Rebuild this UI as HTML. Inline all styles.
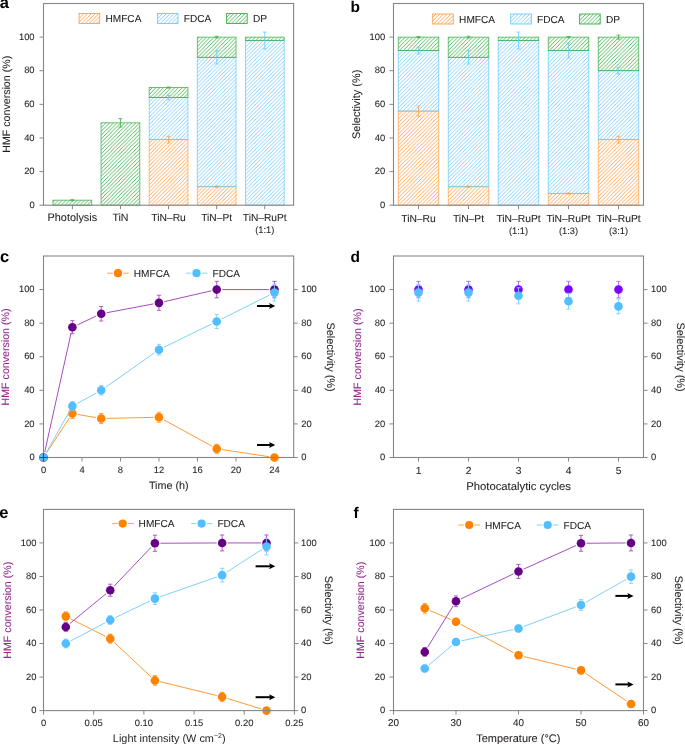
<!DOCTYPE html>
<html><head><meta charset="utf-8"><style>
html,body{margin:0;padding:0;background:#fff;width:685px;height:744px;overflow:hidden}
svg{display:block;will-change:transform}
text{font-family:"Liberation Sans", sans-serif;text-rendering:geometricPrecision}
</style></head><body>
<svg width="685" height="744" viewBox="0 0 685 744">
<defs>
<pattern id="hor" patternUnits="userSpaceOnUse" width="3.75" height="3.75"><path d="M-1,1 L1,-1 M0,3.75 L3.75,0 M2.75,4.75 L4.75,2.75" stroke="#ff9f48" stroke-width="0.9"/></pattern>
<pattern id="hbl" patternUnits="userSpaceOnUse" width="3.75" height="3.75"><path d="M-1,1 L1,-1 M0,3.75 L3.75,0 M2.75,4.75 L4.75,2.75" stroke="#78cbfa" stroke-width="0.9"/></pattern>
<pattern id="hgr" patternUnits="userSpaceOnUse" width="3.75" height="3.75"><path d="M-1,1 L1,-1 M0,3.75 L3.75,0 M2.75,4.75 L4.75,2.75" stroke="#42b24f" stroke-width="0.9"/></pattern>
</defs>
<rect x="52.96" y="200.16" width="38.80" height="5.04" fill="url(#hgr)" stroke="#3cb04a" stroke-width="0.75"/>
<rect x="101.05" y="122.84" width="38.80" height="82.36" fill="url(#hgr)" stroke="#3cb04a" stroke-width="0.75"/>
<rect x="149.15" y="139.65" width="38.80" height="65.55" fill="url(#hor)" stroke="#ffa34d" stroke-width="0.75"/>
<rect x="149.15" y="97.63" width="38.80" height="42.02" fill="url(#hbl)" stroke="#6fcaf7" stroke-width="0.75"/>
<rect x="149.15" y="87.54" width="38.80" height="10.09" fill="url(#hgr)" stroke="#3cb04a" stroke-width="0.75"/>
<rect x="197.25" y="186.71" width="38.80" height="18.49" fill="url(#hor)" stroke="#ffa34d" stroke-width="0.75"/>
<rect x="197.25" y="57.29" width="38.80" height="129.42" fill="url(#hbl)" stroke="#6fcaf7" stroke-width="0.75"/>
<rect x="197.25" y="37.12" width="38.80" height="20.17" fill="url(#hgr)" stroke="#3cb04a" stroke-width="0.75"/>
<rect x="245.34" y="40.48" width="38.80" height="164.72" fill="url(#hbl)" stroke="#6fcaf7" stroke-width="0.75"/>
<rect x="245.34" y="37.12" width="38.80" height="3.36" fill="url(#hgr)" stroke="#3cb04a" stroke-width="0.75"/>
<line x1="72.36" y1="199.65" x2="72.36" y2="200.66" stroke="#3cb04a" stroke-width="0.8"/>
<line x1="70.36" y1="199.65" x2="74.36" y2="199.65" stroke="#3cb04a" stroke-width="0.8"/>
<line x1="70.36" y1="200.66" x2="74.36" y2="200.66" stroke="#3cb04a" stroke-width="0.8"/>
<line x1="120.45" y1="118.64" x2="120.45" y2="127.04" stroke="#3cb04a" stroke-width="0.8"/>
<line x1="118.45" y1="118.64" x2="122.45" y2="118.64" stroke="#3cb04a" stroke-width="0.8"/>
<line x1="118.45" y1="127.04" x2="122.45" y2="127.04" stroke="#3cb04a" stroke-width="0.8"/>
<line x1="168.55" y1="136.29" x2="168.55" y2="143.01" stroke="#ffa34d" stroke-width="0.8"/>
<line x1="166.55" y1="136.29" x2="170.55" y2="136.29" stroke="#ffa34d" stroke-width="0.8"/>
<line x1="166.55" y1="143.01" x2="170.55" y2="143.01" stroke="#ffa34d" stroke-width="0.8"/>
<line x1="168.55" y1="95.44" x2="168.55" y2="99.81" stroke="#6fcaf7" stroke-width="0.8"/>
<line x1="166.55" y1="95.44" x2="170.55" y2="95.44" stroke="#6fcaf7" stroke-width="0.8"/>
<line x1="166.55" y1="99.81" x2="170.55" y2="99.81" stroke="#6fcaf7" stroke-width="0.8"/>
<line x1="168.55" y1="87.04" x2="168.55" y2="88.05" stroke="#3cb04a" stroke-width="0.8"/>
<line x1="166.55" y1="87.04" x2="170.55" y2="87.04" stroke="#3cb04a" stroke-width="0.8"/>
<line x1="166.55" y1="88.05" x2="170.55" y2="88.05" stroke="#3cb04a" stroke-width="0.8"/>
<line x1="216.65" y1="185.87" x2="216.65" y2="187.55" stroke="#ffa34d" stroke-width="0.8"/>
<line x1="214.65" y1="185.87" x2="218.65" y2="185.87" stroke="#ffa34d" stroke-width="0.8"/>
<line x1="214.65" y1="187.55" x2="218.65" y2="187.55" stroke="#ffa34d" stroke-width="0.8"/>
<line x1="216.65" y1="50.56" x2="216.65" y2="64.01" stroke="#6fcaf7" stroke-width="0.8"/>
<line x1="214.65" y1="50.56" x2="218.65" y2="50.56" stroke="#6fcaf7" stroke-width="0.8"/>
<line x1="214.65" y1="64.01" x2="218.65" y2="64.01" stroke="#6fcaf7" stroke-width="0.8"/>
<line x1="216.65" y1="36.28" x2="216.65" y2="37.96" stroke="#3cb04a" stroke-width="0.8"/>
<line x1="214.65" y1="36.28" x2="218.65" y2="36.28" stroke="#3cb04a" stroke-width="0.8"/>
<line x1="214.65" y1="37.96" x2="218.65" y2="37.96" stroke="#3cb04a" stroke-width="0.8"/>
<line x1="264.74" y1="32.07" x2="264.74" y2="48.88" stroke="#6fcaf7" stroke-width="0.8"/>
<line x1="262.74" y1="32.07" x2="266.74" y2="32.07" stroke="#6fcaf7" stroke-width="0.8"/>
<line x1="262.74" y1="48.88" x2="266.74" y2="48.88" stroke="#6fcaf7" stroke-width="0.8"/>
<line x1="39.50" y1="205.20" x2="43.50" y2="205.20" stroke="#868686" stroke-width="1.0"/>
<text x="34.60" y="207.80" font-size="9.4" text-anchor="end" fill="#231f20" font-weight="normal" stroke="#231f20" stroke-width="0.08">0</text>
<line x1="39.50" y1="171.58" x2="43.50" y2="171.58" stroke="#868686" stroke-width="1.0"/>
<text x="34.60" y="174.18" font-size="9.4" text-anchor="end" fill="#231f20" font-weight="normal" stroke="#231f20" stroke-width="0.08">20</text>
<line x1="39.50" y1="137.97" x2="43.50" y2="137.97" stroke="#868686" stroke-width="1.0"/>
<text x="34.60" y="140.57" font-size="9.4" text-anchor="end" fill="#231f20" font-weight="normal" stroke="#231f20" stroke-width="0.08">40</text>
<line x1="39.50" y1="104.35" x2="43.50" y2="104.35" stroke="#868686" stroke-width="1.0"/>
<text x="34.60" y="106.95" font-size="9.4" text-anchor="end" fill="#231f20" font-weight="normal" stroke="#231f20" stroke-width="0.08">60</text>
<line x1="39.50" y1="70.73" x2="43.50" y2="70.73" stroke="#868686" stroke-width="1.0"/>
<text x="34.60" y="73.33" font-size="9.4" text-anchor="end" fill="#231f20" font-weight="normal" stroke="#231f20" stroke-width="0.08">80</text>
<line x1="39.50" y1="37.12" x2="43.50" y2="37.12" stroke="#868686" stroke-width="1.0"/>
<text x="34.60" y="39.72" font-size="9.4" text-anchor="end" fill="#231f20" font-weight="normal" stroke="#231f20" stroke-width="0.08">100</text>
<line x1="72.36" y1="205.20" x2="72.36" y2="209.20" stroke="#868686" stroke-width="1.0"/>
<line x1="120.45" y1="205.20" x2="120.45" y2="209.20" stroke="#868686" stroke-width="1.0"/>
<line x1="168.55" y1="205.20" x2="168.55" y2="209.20" stroke="#868686" stroke-width="1.0"/>
<line x1="216.65" y1="205.20" x2="216.65" y2="209.20" stroke="#868686" stroke-width="1.0"/>
<line x1="264.74" y1="205.20" x2="264.74" y2="209.20" stroke="#868686" stroke-width="1.0"/>
<text x="72.36" y="220.50" font-size="10.9" text-anchor="middle" fill="#231f20" font-weight="normal" stroke="#231f20" stroke-width="0.08">Photolysis</text>
<text x="120.45" y="220.70" font-size="10.6" text-anchor="middle" fill="#231f20" font-weight="normal" stroke="#231f20" stroke-width="0.08">TiN</text>
<text x="168.55" y="220.90" font-size="10.3" text-anchor="middle" fill="#231f20" font-weight="normal" stroke="#231f20" stroke-width="0.08">TiN–Ru</text>
<text x="216.65" y="220.90" font-size="10.2" text-anchor="middle" fill="#231f20" font-weight="normal" stroke="#231f20" stroke-width="0.08">TiN–Pt</text>
<text x="264.74" y="220.90" font-size="10.2" text-anchor="middle" fill="#231f20" font-weight="normal" stroke="#231f20" stroke-width="0.08">TiN–RuPt</text>
<text x="264.74" y="232.90" font-size="9.3" text-anchor="middle" fill="#231f20" font-weight="normal" stroke="#231f20" stroke-width="0.08">(1:1)</text>
<text x="10.30" y="104.30" font-size="10.65" text-anchor="middle" fill="#231f20" font-weight="normal" stroke="#231f20" stroke-width="0.08" transform="rotate(-90 10.3 104.3)">HMF conversion (%)</text>
<rect x="79.10" y="13.50" width="20.6" height="10.0" fill="url(#hor)" stroke="#ffa34d" stroke-width="0.9"/>
<text x="105.50" y="22.20" font-size="10.1" text-anchor="start" fill="#231f20" font-weight="normal" stroke="#231f20" stroke-width="0.08">HMFCA</text>
<rect x="157.40" y="13.50" width="20.6" height="10.0" fill="url(#hbl)" stroke="#6fcaf7" stroke-width="0.9"/>
<text x="183.80" y="22.20" font-size="10.1" text-anchor="start" fill="#231f20" font-weight="normal" stroke="#231f20" stroke-width="0.08">FDCA</text>
<rect x="226.60" y="13.50" width="20.6" height="10.0" fill="url(#hgr)" stroke="#3cb04a" stroke-width="0.9"/>
<text x="253.00" y="22.20" font-size="10.1" text-anchor="start" fill="#231f20" font-weight="normal" stroke="#231f20" stroke-width="0.08">DP</text>
<rect x="398.20" y="111.07" width="40.60" height="94.13" fill="url(#hor)" stroke="#ffa34d" stroke-width="0.75"/>
<rect x="398.20" y="50.56" width="40.60" height="60.51" fill="url(#hbl)" stroke="#6fcaf7" stroke-width="0.75"/>
<rect x="398.20" y="37.12" width="40.60" height="13.45" fill="url(#hgr)" stroke="#3cb04a" stroke-width="0.75"/>
<rect x="448.20" y="186.71" width="40.60" height="18.49" fill="url(#hor)" stroke="#ffa34d" stroke-width="0.75"/>
<rect x="448.20" y="57.29" width="40.60" height="129.42" fill="url(#hbl)" stroke="#6fcaf7" stroke-width="0.75"/>
<rect x="448.20" y="37.12" width="40.60" height="20.17" fill="url(#hgr)" stroke="#3cb04a" stroke-width="0.75"/>
<rect x="498.20" y="40.48" width="40.60" height="164.72" fill="url(#hbl)" stroke="#6fcaf7" stroke-width="0.75"/>
<rect x="498.20" y="37.12" width="40.60" height="3.36" fill="url(#hgr)" stroke="#3cb04a" stroke-width="0.75"/>
<rect x="548.20" y="193.43" width="40.60" height="11.77" fill="url(#hor)" stroke="#ffa34d" stroke-width="0.75"/>
<rect x="548.20" y="50.56" width="40.60" height="142.87" fill="url(#hbl)" stroke="#6fcaf7" stroke-width="0.75"/>
<rect x="548.20" y="37.12" width="40.60" height="13.45" fill="url(#hgr)" stroke="#3cb04a" stroke-width="0.75"/>
<rect x="598.20" y="139.65" width="40.60" height="65.55" fill="url(#hor)" stroke="#ffa34d" stroke-width="0.75"/>
<rect x="598.20" y="70.73" width="40.60" height="68.91" fill="url(#hbl)" stroke="#6fcaf7" stroke-width="0.75"/>
<rect x="598.20" y="37.12" width="40.60" height="33.62" fill="url(#hgr)" stroke="#3cb04a" stroke-width="0.75"/>
<line x1="418.50" y1="106.03" x2="418.50" y2="116.12" stroke="#ffa34d" stroke-width="0.8"/>
<line x1="416.50" y1="106.03" x2="420.50" y2="106.03" stroke="#ffa34d" stroke-width="0.8"/>
<line x1="416.50" y1="116.12" x2="420.50" y2="116.12" stroke="#ffa34d" stroke-width="0.8"/>
<line x1="418.50" y1="47.20" x2="418.50" y2="53.93" stroke="#6fcaf7" stroke-width="0.8"/>
<line x1="416.50" y1="47.20" x2="420.50" y2="47.20" stroke="#6fcaf7" stroke-width="0.8"/>
<line x1="416.50" y1="53.93" x2="420.50" y2="53.93" stroke="#6fcaf7" stroke-width="0.8"/>
<line x1="418.50" y1="36.44" x2="418.50" y2="37.79" stroke="#3cb04a" stroke-width="0.8"/>
<line x1="416.50" y1="36.44" x2="420.50" y2="36.44" stroke="#3cb04a" stroke-width="0.8"/>
<line x1="416.50" y1="37.79" x2="420.50" y2="37.79" stroke="#3cb04a" stroke-width="0.8"/>
<line x1="468.50" y1="186.04" x2="468.50" y2="187.38" stroke="#ffa34d" stroke-width="0.8"/>
<line x1="466.50" y1="186.04" x2="470.50" y2="186.04" stroke="#ffa34d" stroke-width="0.8"/>
<line x1="466.50" y1="187.38" x2="470.50" y2="187.38" stroke="#ffa34d" stroke-width="0.8"/>
<line x1="468.50" y1="50.56" x2="468.50" y2="64.01" stroke="#6fcaf7" stroke-width="0.8"/>
<line x1="466.50" y1="50.56" x2="470.50" y2="50.56" stroke="#6fcaf7" stroke-width="0.8"/>
<line x1="466.50" y1="64.01" x2="470.50" y2="64.01" stroke="#6fcaf7" stroke-width="0.8"/>
<line x1="468.50" y1="36.28" x2="468.50" y2="37.96" stroke="#3cb04a" stroke-width="0.8"/>
<line x1="466.50" y1="36.28" x2="470.50" y2="36.28" stroke="#3cb04a" stroke-width="0.8"/>
<line x1="466.50" y1="37.96" x2="470.50" y2="37.96" stroke="#3cb04a" stroke-width="0.8"/>
<line x1="518.50" y1="32.07" x2="518.50" y2="48.88" stroke="#6fcaf7" stroke-width="0.8"/>
<line x1="516.50" y1="32.07" x2="520.50" y2="32.07" stroke="#6fcaf7" stroke-width="0.8"/>
<line x1="516.50" y1="48.88" x2="520.50" y2="48.88" stroke="#6fcaf7" stroke-width="0.8"/>
<line x1="568.50" y1="192.93" x2="568.50" y2="193.94" stroke="#ffa34d" stroke-width="0.8"/>
<line x1="566.50" y1="192.93" x2="570.50" y2="192.93" stroke="#ffa34d" stroke-width="0.8"/>
<line x1="566.50" y1="193.94" x2="570.50" y2="193.94" stroke="#ffa34d" stroke-width="0.8"/>
<line x1="568.50" y1="43.00" x2="568.50" y2="58.13" stroke="#6fcaf7" stroke-width="0.8"/>
<line x1="566.50" y1="43.00" x2="570.50" y2="43.00" stroke="#6fcaf7" stroke-width="0.8"/>
<line x1="566.50" y1="58.13" x2="570.50" y2="58.13" stroke="#6fcaf7" stroke-width="0.8"/>
<line x1="568.50" y1="36.44" x2="568.50" y2="37.79" stroke="#3cb04a" stroke-width="0.8"/>
<line x1="566.50" y1="36.44" x2="570.50" y2="36.44" stroke="#3cb04a" stroke-width="0.8"/>
<line x1="566.50" y1="37.79" x2="570.50" y2="37.79" stroke="#3cb04a" stroke-width="0.8"/>
<line x1="618.50" y1="136.29" x2="618.50" y2="143.01" stroke="#ffa34d" stroke-width="0.8"/>
<line x1="616.50" y1="136.29" x2="620.50" y2="136.29" stroke="#ffa34d" stroke-width="0.8"/>
<line x1="616.50" y1="143.01" x2="620.50" y2="143.01" stroke="#ffa34d" stroke-width="0.8"/>
<line x1="618.50" y1="67.37" x2="618.50" y2="74.09" stroke="#6fcaf7" stroke-width="0.8"/>
<line x1="616.50" y1="67.37" x2="620.50" y2="67.37" stroke="#6fcaf7" stroke-width="0.8"/>
<line x1="616.50" y1="74.09" x2="620.50" y2="74.09" stroke="#6fcaf7" stroke-width="0.8"/>
<line x1="618.50" y1="35.10" x2="618.50" y2="39.13" stroke="#3cb04a" stroke-width="0.8"/>
<line x1="616.50" y1="35.10" x2="620.50" y2="35.10" stroke="#3cb04a" stroke-width="0.8"/>
<line x1="616.50" y1="39.13" x2="620.50" y2="39.13" stroke="#3cb04a" stroke-width="0.8"/>
<line x1="389.50" y1="205.20" x2="393.50" y2="205.20" stroke="#868686" stroke-width="1.0"/>
<text x="385.25" y="207.80" font-size="9.4" text-anchor="end" fill="#231f20" font-weight="normal" stroke="#231f20" stroke-width="0.08">0</text>
<line x1="389.50" y1="171.58" x2="393.50" y2="171.58" stroke="#868686" stroke-width="1.0"/>
<text x="385.25" y="174.18" font-size="9.4" text-anchor="end" fill="#231f20" font-weight="normal" stroke="#231f20" stroke-width="0.08">20</text>
<line x1="389.50" y1="137.97" x2="393.50" y2="137.97" stroke="#868686" stroke-width="1.0"/>
<text x="385.25" y="140.57" font-size="9.4" text-anchor="end" fill="#231f20" font-weight="normal" stroke="#231f20" stroke-width="0.08">40</text>
<line x1="389.50" y1="104.35" x2="393.50" y2="104.35" stroke="#868686" stroke-width="1.0"/>
<text x="385.25" y="106.95" font-size="9.4" text-anchor="end" fill="#231f20" font-weight="normal" stroke="#231f20" stroke-width="0.08">60</text>
<line x1="389.50" y1="70.73" x2="393.50" y2="70.73" stroke="#868686" stroke-width="1.0"/>
<text x="385.25" y="73.33" font-size="9.4" text-anchor="end" fill="#231f20" font-weight="normal" stroke="#231f20" stroke-width="0.08">80</text>
<line x1="389.50" y1="37.12" x2="393.50" y2="37.12" stroke="#868686" stroke-width="1.0"/>
<text x="385.25" y="39.72" font-size="9.4" text-anchor="end" fill="#231f20" font-weight="normal" stroke="#231f20" stroke-width="0.08">100</text>
<line x1="418.50" y1="205.20" x2="418.50" y2="209.20" stroke="#868686" stroke-width="1.0"/>
<line x1="468.50" y1="205.20" x2="468.50" y2="209.20" stroke="#868686" stroke-width="1.0"/>
<line x1="518.50" y1="205.20" x2="518.50" y2="209.20" stroke="#868686" stroke-width="1.0"/>
<line x1="568.50" y1="205.20" x2="568.50" y2="209.20" stroke="#868686" stroke-width="1.0"/>
<line x1="618.50" y1="205.20" x2="618.50" y2="209.20" stroke="#868686" stroke-width="1.0"/>
<text x="418.50" y="222.20" font-size="10.3" text-anchor="middle" fill="#231f20" font-weight="normal" stroke="#231f20" stroke-width="0.08">TiN–Ru</text>
<text x="468.50" y="222.20" font-size="10.3" text-anchor="middle" fill="#231f20" font-weight="normal" stroke="#231f20" stroke-width="0.08">TiN–Pt</text>
<text x="518.50" y="222.20" font-size="10.3" text-anchor="middle" fill="#231f20" font-weight="normal" stroke="#231f20" stroke-width="0.08">TiN–RuPt</text>
<text x="568.50" y="222.20" font-size="10.3" text-anchor="middle" fill="#231f20" font-weight="normal" stroke="#231f20" stroke-width="0.08">TiN–RuPt</text>
<text x="618.50" y="222.20" font-size="10.3" text-anchor="middle" fill="#231f20" font-weight="normal" stroke="#231f20" stroke-width="0.08">TiN–RuPt</text>
<text x="518.50" y="234.00" font-size="9.3" text-anchor="middle" fill="#231f20" font-weight="normal" stroke="#231f20" stroke-width="0.08">(1:1)</text>
<text x="568.50" y="234.00" font-size="9.3" text-anchor="middle" fill="#231f20" font-weight="normal" stroke="#231f20" stroke-width="0.08">(1:3)</text>
<text x="618.50" y="234.00" font-size="9.3" text-anchor="middle" fill="#231f20" font-weight="normal" stroke="#231f20" stroke-width="0.08">(3:1)</text>
<text x="360.00" y="104.30" font-size="10.95" text-anchor="middle" fill="#231f20" font-weight="normal" stroke="#231f20" stroke-width="0.08" transform="rotate(-90 360.0 104.3)">Selectivity (%)</text>
<rect x="432.70" y="14.00" width="20.6" height="10.0" fill="url(#hor)" stroke="#ffa34d" stroke-width="0.9"/>
<text x="459.10" y="22.70" font-size="10.1" text-anchor="start" fill="#231f20" font-weight="normal" stroke="#231f20" stroke-width="0.08">HMFCA</text>
<rect x="510.70" y="14.00" width="20.6" height="10.0" fill="url(#hbl)" stroke="#6fcaf7" stroke-width="0.9"/>
<text x="537.10" y="22.70" font-size="10.1" text-anchor="start" fill="#231f20" font-weight="normal" stroke="#231f20" stroke-width="0.08">FDCA</text>
<rect x="579.60" y="14.00" width="20.6" height="10.0" fill="url(#hgr)" stroke="#3cb04a" stroke-width="0.9"/>
<text x="606.00" y="22.70" font-size="10.1" text-anchor="start" fill="#231f20" font-weight="normal" stroke="#231f20" stroke-width="0.08">DP</text>
<line x1="39.50" y1="457.50" x2="43.50" y2="457.50" stroke="#868686" stroke-width="1.0"/>
<text x="34.60" y="460.10" font-size="9.4" text-anchor="end" fill="#231f20" font-weight="normal" stroke="#231f20" stroke-width="0.08">0</text>
<line x1="293.70" y1="457.50" x2="297.70" y2="457.50" stroke="#868686" stroke-width="1.0"/>
<text x="301.20" y="460.10" font-size="9.4" text-anchor="start" fill="#231f20" font-weight="normal" stroke="#231f20" stroke-width="0.08">0</text>
<line x1="39.50" y1="423.92" x2="43.50" y2="423.92" stroke="#868686" stroke-width="1.0"/>
<text x="34.60" y="426.52" font-size="9.4" text-anchor="end" fill="#231f20" font-weight="normal" stroke="#231f20" stroke-width="0.08">20</text>
<line x1="293.70" y1="423.92" x2="297.70" y2="423.92" stroke="#868686" stroke-width="1.0"/>
<text x="301.20" y="426.52" font-size="9.4" text-anchor="start" fill="#231f20" font-weight="normal" stroke="#231f20" stroke-width="0.08">20</text>
<line x1="39.50" y1="390.33" x2="43.50" y2="390.33" stroke="#868686" stroke-width="1.0"/>
<text x="34.60" y="392.93" font-size="9.4" text-anchor="end" fill="#231f20" font-weight="normal" stroke="#231f20" stroke-width="0.08">40</text>
<line x1="293.70" y1="390.33" x2="297.70" y2="390.33" stroke="#868686" stroke-width="1.0"/>
<text x="301.20" y="392.93" font-size="9.4" text-anchor="start" fill="#231f20" font-weight="normal" stroke="#231f20" stroke-width="0.08">40</text>
<line x1="39.50" y1="356.75" x2="43.50" y2="356.75" stroke="#868686" stroke-width="1.0"/>
<text x="34.60" y="359.35" font-size="9.4" text-anchor="end" fill="#231f20" font-weight="normal" stroke="#231f20" stroke-width="0.08">60</text>
<line x1="293.70" y1="356.75" x2="297.70" y2="356.75" stroke="#868686" stroke-width="1.0"/>
<text x="301.20" y="359.35" font-size="9.4" text-anchor="start" fill="#231f20" font-weight="normal" stroke="#231f20" stroke-width="0.08">60</text>
<line x1="39.50" y1="323.17" x2="43.50" y2="323.17" stroke="#868686" stroke-width="1.0"/>
<text x="34.60" y="325.77" font-size="9.4" text-anchor="end" fill="#231f20" font-weight="normal" stroke="#231f20" stroke-width="0.08">80</text>
<line x1="293.70" y1="323.17" x2="297.70" y2="323.17" stroke="#868686" stroke-width="1.0"/>
<text x="301.20" y="325.77" font-size="9.4" text-anchor="start" fill="#231f20" font-weight="normal" stroke="#231f20" stroke-width="0.08">80</text>
<line x1="39.50" y1="289.58" x2="43.50" y2="289.58" stroke="#868686" stroke-width="1.0"/>
<text x="34.60" y="292.18" font-size="9.4" text-anchor="end" fill="#231f20" font-weight="normal" stroke="#231f20" stroke-width="0.08">100</text>
<line x1="293.70" y1="289.58" x2="297.70" y2="289.58" stroke="#868686" stroke-width="1.0"/>
<text x="301.20" y="292.18" font-size="9.4" text-anchor="start" fill="#231f20" font-weight="normal" stroke="#231f20" stroke-width="0.08">100</text>
<line x1="43.50" y1="457.50" x2="43.50" y2="461.50" stroke="#868686" stroke-width="1.0"/>
<text x="43.50" y="472.90" font-size="9.4" text-anchor="middle" fill="#231f20" font-weight="normal" stroke="#231f20" stroke-width="0.08">0</text>
<line x1="81.99" y1="457.50" x2="81.99" y2="461.50" stroke="#868686" stroke-width="1.0"/>
<text x="81.99" y="472.90" font-size="9.4" text-anchor="middle" fill="#231f20" font-weight="normal" stroke="#231f20" stroke-width="0.08">4</text>
<line x1="120.48" y1="457.50" x2="120.48" y2="461.50" stroke="#868686" stroke-width="1.0"/>
<text x="120.48" y="472.90" font-size="9.4" text-anchor="middle" fill="#231f20" font-weight="normal" stroke="#231f20" stroke-width="0.08">8</text>
<line x1="158.98" y1="457.50" x2="158.98" y2="461.50" stroke="#868686" stroke-width="1.0"/>
<text x="158.98" y="472.90" font-size="9.4" text-anchor="middle" fill="#231f20" font-weight="normal" stroke="#231f20" stroke-width="0.08">12</text>
<line x1="197.47" y1="457.50" x2="197.47" y2="461.50" stroke="#868686" stroke-width="1.0"/>
<text x="197.47" y="472.90" font-size="9.4" text-anchor="middle" fill="#231f20" font-weight="normal" stroke="#231f20" stroke-width="0.08">16</text>
<line x1="235.96" y1="457.50" x2="235.96" y2="461.50" stroke="#868686" stroke-width="1.0"/>
<text x="235.96" y="472.90" font-size="9.4" text-anchor="middle" fill="#231f20" font-weight="normal" stroke="#231f20" stroke-width="0.08">20</text>
<line x1="274.45" y1="457.50" x2="274.45" y2="461.50" stroke="#868686" stroke-width="1.0"/>
<text x="274.45" y="472.90" font-size="9.4" text-anchor="middle" fill="#231f20" font-weight="normal" stroke="#231f20" stroke-width="0.08">24</text>
<line x1="46.52" y1="452.90" x2="69.35" y2="418.10" stroke="#ff9a33" stroke-width="1.0"/>
<line x1="77.79" y1="414.45" x2="95.82" y2="417.60" stroke="#ff9a33" stroke-width="1.0"/>
<line x1="106.74" y1="418.42" x2="153.48" y2="417.33" stroke="#ff9a33" stroke-width="1.0"/>
<line x1="163.80" y1="419.84" x2="211.89" y2="446.13" stroke="#ff9a33" stroke-width="1.0"/>
<line x1="222.15" y1="449.59" x2="269.02" y2="456.68" stroke="#ff9a33" stroke-width="1.0"/>
<line x1="72.37" y1="408.47" x2="72.37" y2="418.54" stroke="#ff9a33" stroke-width="0.9"/>
<line x1="70.27" y1="408.47" x2="74.47" y2="408.47" stroke="#ff9a33" stroke-width="0.9"/>
<line x1="70.27" y1="418.54" x2="74.47" y2="418.54" stroke="#ff9a33" stroke-width="0.9"/>
<line x1="101.24" y1="413.51" x2="101.24" y2="423.58" stroke="#ff9a33" stroke-width="0.9"/>
<line x1="99.14" y1="413.51" x2="103.34" y2="413.51" stroke="#ff9a33" stroke-width="0.9"/>
<line x1="99.14" y1="423.58" x2="103.34" y2="423.58" stroke="#ff9a33" stroke-width="0.9"/>
<line x1="158.98" y1="412.16" x2="158.98" y2="422.24" stroke="#ff9a33" stroke-width="0.9"/>
<line x1="156.88" y1="412.16" x2="161.08" y2="412.16" stroke="#ff9a33" stroke-width="0.9"/>
<line x1="156.88" y1="422.24" x2="161.08" y2="422.24" stroke="#ff9a33" stroke-width="0.9"/>
<line x1="216.72" y1="444.23" x2="216.72" y2="453.30" stroke="#ff9a33" stroke-width="0.9"/>
<line x1="214.62" y1="444.23" x2="218.82" y2="444.23" stroke="#ff9a33" stroke-width="0.9"/>
<line x1="214.62" y1="453.30" x2="218.82" y2="453.30" stroke="#ff9a33" stroke-width="0.9"/>
<line x1="274.45" y1="455.82" x2="274.45" y2="459.18" stroke="#ff9a33" stroke-width="0.9"/>
<line x1="272.35" y1="455.82" x2="276.55" y2="455.82" stroke="#ff9a33" stroke-width="0.9"/>
<line x1="272.35" y1="459.18" x2="276.55" y2="459.18" stroke="#ff9a33" stroke-width="0.9"/>
<circle cx="43.50" cy="457.50" r="4.3" fill="#ff8200"/>
<circle cx="72.37" cy="413.51" r="4.3" fill="#ff8200"/>
<circle cx="101.24" cy="418.54" r="4.3" fill="#ff8200"/>
<circle cx="158.98" cy="417.20" r="4.3" fill="#ff8200"/>
<circle cx="216.72" cy="448.77" r="4.3" fill="#ff8200"/>
<circle cx="274.45" cy="457.50" r="4.3" fill="#ff8200"/>
<line x1="44.69" y1="452.13" x2="71.18" y2="332.57" stroke="#a64dbf" stroke-width="1.0"/>
<line x1="77.36" y1="324.88" x2="96.25" y2="316.08" stroke="#a64dbf" stroke-width="1.0"/>
<line x1="106.64" y1="312.74" x2="153.57" y2="303.87" stroke="#a64dbf" stroke-width="1.0"/>
<line x1="164.34" y1="301.62" x2="211.36" y2="290.81" stroke="#a64dbf" stroke-width="1.0"/>
<line x1="222.22" y1="289.58" x2="268.95" y2="289.58" stroke="#a64dbf" stroke-width="1.0"/>
<line x1="72.37" y1="320.65" x2="72.37" y2="333.75" stroke="#a64dbf" stroke-width="0.9"/>
<line x1="70.27" y1="320.65" x2="74.47" y2="320.65" stroke="#a64dbf" stroke-width="0.9"/>
<line x1="70.27" y1="333.75" x2="74.47" y2="333.75" stroke="#a64dbf" stroke-width="0.9"/>
<line x1="101.24" y1="306.54" x2="101.24" y2="320.98" stroke="#a64dbf" stroke-width="0.9"/>
<line x1="99.14" y1="306.54" x2="103.34" y2="306.54" stroke="#a64dbf" stroke-width="0.9"/>
<line x1="99.14" y1="320.98" x2="103.34" y2="320.98" stroke="#a64dbf" stroke-width="0.9"/>
<line x1="158.98" y1="295.29" x2="158.98" y2="310.40" stroke="#a64dbf" stroke-width="0.9"/>
<line x1="156.88" y1="295.29" x2="161.08" y2="295.29" stroke="#a64dbf" stroke-width="0.9"/>
<line x1="156.88" y1="310.40" x2="161.08" y2="310.40" stroke="#a64dbf" stroke-width="0.9"/>
<line x1="216.72" y1="281.36" x2="216.72" y2="297.81" stroke="#a64dbf" stroke-width="0.9"/>
<line x1="214.62" y1="281.36" x2="218.82" y2="281.36" stroke="#a64dbf" stroke-width="0.9"/>
<line x1="214.62" y1="297.81" x2="218.82" y2="297.81" stroke="#a64dbf" stroke-width="0.9"/>
<line x1="274.45" y1="281.36" x2="274.45" y2="297.81" stroke="#a64dbf" stroke-width="0.9"/>
<line x1="272.35" y1="281.36" x2="276.55" y2="281.36" stroke="#a64dbf" stroke-width="0.9"/>
<line x1="272.35" y1="297.81" x2="276.55" y2="297.81" stroke="#a64dbf" stroke-width="0.9"/>
<circle cx="43.50" cy="457.50" r="4.3" fill="#660085"/>
<circle cx="72.37" cy="327.20" r="4.3" fill="#660085"/>
<circle cx="101.24" cy="313.76" r="4.3" fill="#660085"/>
<circle cx="158.98" cy="302.85" r="4.3" fill="#660085"/>
<circle cx="216.72" cy="289.58" r="4.3" fill="#660085"/>
<circle cx="274.45" cy="289.58" r="4.3" fill="#660085"/>
<line x1="46.19" y1="452.71" x2="69.68" y2="410.91" stroke="#7fd0fb" stroke-width="1.0"/>
<line x1="77.20" y1="403.48" x2="96.41" y2="392.97" stroke="#7fd0fb" stroke-width="1.0"/>
<line x1="105.74" y1="387.17" x2="154.48" y2="352.86" stroke="#7fd0fb" stroke-width="1.0"/>
<line x1="163.92" y1="347.28" x2="211.77" y2="323.90" stroke="#7fd0fb" stroke-width="1.0"/>
<line x1="221.63" y1="319.03" x2="269.53" y2="295.07" stroke="#7fd0fb" stroke-width="1.0"/>
<line x1="72.37" y1="401.58" x2="72.37" y2="410.65" stroke="#7fd0fb" stroke-width="0.9"/>
<line x1="70.27" y1="401.58" x2="74.47" y2="401.58" stroke="#7fd0fb" stroke-width="0.9"/>
<line x1="70.27" y1="410.65" x2="74.47" y2="410.65" stroke="#7fd0fb" stroke-width="0.9"/>
<line x1="101.24" y1="385.63" x2="101.24" y2="395.04" stroke="#7fd0fb" stroke-width="0.9"/>
<line x1="99.14" y1="385.63" x2="103.34" y2="385.63" stroke="#7fd0fb" stroke-width="0.9"/>
<line x1="99.14" y1="395.04" x2="103.34" y2="395.04" stroke="#7fd0fb" stroke-width="0.9"/>
<line x1="158.98" y1="344.32" x2="158.98" y2="355.07" stroke="#7fd0fb" stroke-width="0.9"/>
<line x1="156.88" y1="344.32" x2="161.08" y2="344.32" stroke="#7fd0fb" stroke-width="0.9"/>
<line x1="156.88" y1="355.07" x2="161.08" y2="355.07" stroke="#7fd0fb" stroke-width="0.9"/>
<line x1="216.72" y1="314.43" x2="216.72" y2="328.54" stroke="#7fd0fb" stroke-width="0.9"/>
<line x1="214.62" y1="314.43" x2="218.82" y2="314.43" stroke="#7fd0fb" stroke-width="0.9"/>
<line x1="214.62" y1="328.54" x2="218.82" y2="328.54" stroke="#7fd0fb" stroke-width="0.9"/>
<line x1="274.45" y1="284.21" x2="274.45" y2="301.00" stroke="#7fd0fb" stroke-width="0.9"/>
<line x1="272.35" y1="284.21" x2="276.55" y2="284.21" stroke="#7fd0fb" stroke-width="0.9"/>
<line x1="272.35" y1="301.00" x2="276.55" y2="301.00" stroke="#7fd0fb" stroke-width="0.9"/>
<circle cx="43.50" cy="457.50" r="4.3" fill="#50beff"/>
<circle cx="72.37" cy="406.12" r="4.3" fill="#50beff"/>
<circle cx="101.24" cy="390.33" r="4.3" fill="#50beff"/>
<circle cx="158.98" cy="349.70" r="4.3" fill="#50beff"/>
<circle cx="216.72" cy="321.49" r="4.3" fill="#50beff"/>
<circle cx="274.45" cy="292.61" r="4.3" fill="#50beff"/>
<line x1="257.00" y1="306.00" x2="271.30" y2="306.00" stroke="#000" stroke-width="2.0"/>
<path d="M275.30,306.00 L269.10,303.00 L270.30,306.00 L269.10,309.00 Z" fill="#000"/>
<line x1="257.00" y1="445.00" x2="271.30" y2="445.00" stroke="#000" stroke-width="2.0"/>
<path d="M275.30,445.00 L269.10,442.00 L270.30,445.00 L269.10,448.00 Z" fill="#000"/>
<text x="168.80" y="488.60" font-size="10.8" text-anchor="middle" fill="#231f20" font-weight="normal" stroke="#231f20" stroke-width="0.08">Time (h)</text>
<text x="9.10" y="356.95" font-size="10.65" text-anchor="middle" fill="#93278f" font-weight="normal" stroke="#93278f" stroke-width="0.08" transform="rotate(-90 9.1 356.95)">HMF conversion (%)</text>
<text x="326.80" y="357.05" font-size="10.95" text-anchor="middle" fill="#231f20" font-weight="normal" stroke="#231f20" stroke-width="0.08" transform="rotate(90 326.8 357.05)">Selectivity (%)</text>
<line x1="107.20" y1="273.20" x2="112.80" y2="273.20" stroke="#ff9a33" stroke-width="0.9"/>
<line x1="123.20" y1="273.20" x2="128.70" y2="273.20" stroke="#ff9a33" stroke-width="0.9"/>
<circle cx="118.00" cy="273.20" r="4.1" fill="#ff8200"/>
<text x="133.80" y="277.00" font-size="10.1" text-anchor="start" fill="#231f20" font-weight="normal" stroke="#231f20" stroke-width="0.08">HMFCA</text>
<line x1="186.00" y1="273.20" x2="191.30" y2="273.20" stroke="#7fd0fb" stroke-width="0.9"/>
<line x1="201.70" y1="273.20" x2="207.40" y2="273.20" stroke="#7fd0fb" stroke-width="0.9"/>
<circle cx="196.50" cy="273.20" r="4.1" fill="#50beff"/>
<text x="212.60" y="277.00" font-size="10.1" text-anchor="start" fill="#231f20" font-weight="normal" stroke="#231f20" stroke-width="0.08">FDCA</text>
<line x1="389.50" y1="457.50" x2="393.50" y2="457.50" stroke="#868686" stroke-width="1.0"/>
<text x="385.25" y="460.10" font-size="9.4" text-anchor="end" fill="#231f20" font-weight="normal" stroke="#231f20" stroke-width="0.08">0</text>
<line x1="643.50" y1="457.50" x2="647.50" y2="457.50" stroke="#868686" stroke-width="1.0"/>
<text x="651.00" y="460.10" font-size="9.4" text-anchor="start" fill="#231f20" font-weight="normal" stroke="#231f20" stroke-width="0.08">0</text>
<line x1="389.50" y1="423.92" x2="393.50" y2="423.92" stroke="#868686" stroke-width="1.0"/>
<text x="385.25" y="426.52" font-size="9.4" text-anchor="end" fill="#231f20" font-weight="normal" stroke="#231f20" stroke-width="0.08">20</text>
<line x1="643.50" y1="423.92" x2="647.50" y2="423.92" stroke="#868686" stroke-width="1.0"/>
<text x="651.00" y="426.52" font-size="9.4" text-anchor="start" fill="#231f20" font-weight="normal" stroke="#231f20" stroke-width="0.08">20</text>
<line x1="389.50" y1="390.33" x2="393.50" y2="390.33" stroke="#868686" stroke-width="1.0"/>
<text x="385.25" y="392.93" font-size="9.4" text-anchor="end" fill="#231f20" font-weight="normal" stroke="#231f20" stroke-width="0.08">40</text>
<line x1="643.50" y1="390.33" x2="647.50" y2="390.33" stroke="#868686" stroke-width="1.0"/>
<text x="651.00" y="392.93" font-size="9.4" text-anchor="start" fill="#231f20" font-weight="normal" stroke="#231f20" stroke-width="0.08">40</text>
<line x1="389.50" y1="356.75" x2="393.50" y2="356.75" stroke="#868686" stroke-width="1.0"/>
<text x="385.25" y="359.35" font-size="9.4" text-anchor="end" fill="#231f20" font-weight="normal" stroke="#231f20" stroke-width="0.08">60</text>
<line x1="643.50" y1="356.75" x2="647.50" y2="356.75" stroke="#868686" stroke-width="1.0"/>
<text x="651.00" y="359.35" font-size="9.4" text-anchor="start" fill="#231f20" font-weight="normal" stroke="#231f20" stroke-width="0.08">60</text>
<line x1="389.50" y1="323.17" x2="393.50" y2="323.17" stroke="#868686" stroke-width="1.0"/>
<text x="385.25" y="325.77" font-size="9.4" text-anchor="end" fill="#231f20" font-weight="normal" stroke="#231f20" stroke-width="0.08">80</text>
<line x1="643.50" y1="323.17" x2="647.50" y2="323.17" stroke="#868686" stroke-width="1.0"/>
<text x="651.00" y="325.77" font-size="9.4" text-anchor="start" fill="#231f20" font-weight="normal" stroke="#231f20" stroke-width="0.08">80</text>
<line x1="389.50" y1="289.58" x2="393.50" y2="289.58" stroke="#868686" stroke-width="1.0"/>
<text x="385.25" y="292.18" font-size="9.4" text-anchor="end" fill="#231f20" font-weight="normal" stroke="#231f20" stroke-width="0.08">100</text>
<line x1="643.50" y1="289.58" x2="647.50" y2="289.58" stroke="#868686" stroke-width="1.0"/>
<text x="651.00" y="292.18" font-size="9.4" text-anchor="start" fill="#231f20" font-weight="normal" stroke="#231f20" stroke-width="0.08">100</text>
<line x1="418.50" y1="457.50" x2="418.50" y2="461.50" stroke="#868686" stroke-width="1.0"/>
<text x="418.50" y="474.20" font-size="10.3" text-anchor="middle" fill="#231f20" font-weight="normal" stroke="#231f20" stroke-width="0.08">1</text>
<line x1="468.50" y1="457.50" x2="468.50" y2="461.50" stroke="#868686" stroke-width="1.0"/>
<text x="468.50" y="474.20" font-size="10.3" text-anchor="middle" fill="#231f20" font-weight="normal" stroke="#231f20" stroke-width="0.08">2</text>
<line x1="518.50" y1="457.50" x2="518.50" y2="461.50" stroke="#868686" stroke-width="1.0"/>
<text x="518.50" y="474.20" font-size="10.3" text-anchor="middle" fill="#231f20" font-weight="normal" stroke="#231f20" stroke-width="0.08">3</text>
<line x1="568.50" y1="457.50" x2="568.50" y2="461.50" stroke="#868686" stroke-width="1.0"/>
<text x="568.50" y="474.20" font-size="10.3" text-anchor="middle" fill="#231f20" font-weight="normal" stroke="#231f20" stroke-width="0.08">4</text>
<line x1="618.50" y1="457.50" x2="618.50" y2="461.50" stroke="#868686" stroke-width="1.0"/>
<text x="618.50" y="474.20" font-size="10.3" text-anchor="middle" fill="#231f20" font-weight="normal" stroke="#231f20" stroke-width="0.08">5</text>
<line x1="418.50" y1="281.36" x2="418.50" y2="297.81" stroke="#b266ff" stroke-width="0.9"/>
<line x1="416.40" y1="281.36" x2="420.60" y2="281.36" stroke="#b266ff" stroke-width="0.9"/>
<line x1="416.40" y1="297.81" x2="420.60" y2="297.81" stroke="#b266ff" stroke-width="0.9"/>
<line x1="468.50" y1="281.36" x2="468.50" y2="297.81" stroke="#b266ff" stroke-width="0.9"/>
<line x1="466.40" y1="281.36" x2="470.60" y2="281.36" stroke="#b266ff" stroke-width="0.9"/>
<line x1="466.40" y1="297.81" x2="470.60" y2="297.81" stroke="#b266ff" stroke-width="0.9"/>
<line x1="518.50" y1="281.36" x2="518.50" y2="297.81" stroke="#b266ff" stroke-width="0.9"/>
<line x1="516.40" y1="281.36" x2="520.60" y2="281.36" stroke="#b266ff" stroke-width="0.9"/>
<line x1="516.40" y1="297.81" x2="520.60" y2="297.81" stroke="#b266ff" stroke-width="0.9"/>
<line x1="568.50" y1="281.36" x2="568.50" y2="297.81" stroke="#b266ff" stroke-width="0.9"/>
<line x1="566.40" y1="281.36" x2="570.60" y2="281.36" stroke="#b266ff" stroke-width="0.9"/>
<line x1="566.40" y1="297.81" x2="570.60" y2="297.81" stroke="#b266ff" stroke-width="0.9"/>
<line x1="618.50" y1="281.36" x2="618.50" y2="297.81" stroke="#b266ff" stroke-width="0.9"/>
<line x1="616.40" y1="281.36" x2="620.60" y2="281.36" stroke="#b266ff" stroke-width="0.9"/>
<line x1="616.40" y1="297.81" x2="620.60" y2="297.81" stroke="#b266ff" stroke-width="0.9"/>
<circle cx="418.50" cy="289.58" r="4.3" fill="#8000ff"/>
<circle cx="468.50" cy="289.58" r="4.3" fill="#8000ff"/>
<circle cx="518.50" cy="289.58" r="4.3" fill="#8000ff"/>
<circle cx="568.50" cy="289.58" r="4.3" fill="#8000ff"/>
<circle cx="618.50" cy="289.58" r="4.3" fill="#8000ff"/>
<line x1="418.50" y1="284.21" x2="418.50" y2="301.00" stroke="#7fd0fb" stroke-width="0.9"/>
<line x1="416.40" y1="284.21" x2="420.60" y2="284.21" stroke="#7fd0fb" stroke-width="0.9"/>
<line x1="416.40" y1="301.00" x2="420.60" y2="301.00" stroke="#7fd0fb" stroke-width="0.9"/>
<line x1="468.50" y1="284.21" x2="468.50" y2="301.00" stroke="#7fd0fb" stroke-width="0.9"/>
<line x1="466.40" y1="284.21" x2="470.60" y2="284.21" stroke="#7fd0fb" stroke-width="0.9"/>
<line x1="466.40" y1="301.00" x2="470.60" y2="301.00" stroke="#7fd0fb" stroke-width="0.9"/>
<line x1="518.50" y1="287.74" x2="518.50" y2="303.86" stroke="#7fd0fb" stroke-width="0.9"/>
<line x1="516.40" y1="287.74" x2="520.60" y2="287.74" stroke="#7fd0fb" stroke-width="0.9"/>
<line x1="516.40" y1="303.86" x2="520.60" y2="303.86" stroke="#7fd0fb" stroke-width="0.9"/>
<line x1="568.50" y1="293.28" x2="568.50" y2="309.06" stroke="#7fd0fb" stroke-width="0.9"/>
<line x1="566.40" y1="293.28" x2="570.60" y2="293.28" stroke="#7fd0fb" stroke-width="0.9"/>
<line x1="566.40" y1="309.06" x2="570.60" y2="309.06" stroke="#7fd0fb" stroke-width="0.9"/>
<line x1="618.50" y1="298.99" x2="618.50" y2="313.76" stroke="#7fd0fb" stroke-width="0.9"/>
<line x1="616.40" y1="298.99" x2="620.60" y2="298.99" stroke="#7fd0fb" stroke-width="0.9"/>
<line x1="616.40" y1="313.76" x2="620.60" y2="313.76" stroke="#7fd0fb" stroke-width="0.9"/>
<circle cx="418.50" cy="292.61" r="4.3" fill="#50beff"/>
<circle cx="468.50" cy="292.61" r="4.3" fill="#50beff"/>
<circle cx="518.50" cy="295.80" r="4.3" fill="#50beff"/>
<circle cx="568.50" cy="301.17" r="4.3" fill="#50beff"/>
<circle cx="618.50" cy="306.38" r="4.3" fill="#50beff"/>
<text x="518.60" y="489.80" font-size="11.3" text-anchor="middle" fill="#231f20" font-weight="normal" stroke="#231f20" stroke-width="0.08">Photocatalytic cycles</text>
<text x="361.10" y="356.95" font-size="10.65" text-anchor="middle" fill="#93278f" font-weight="normal" stroke="#93278f" stroke-width="0.08" transform="rotate(-90 361.1 356.95)">HMF conversion (%)</text>
<text x="677.20" y="357.05" font-size="10.95" text-anchor="middle" fill="#231f20" font-weight="normal" stroke="#231f20" stroke-width="0.08" transform="rotate(90 677.2 357.05)">Selectivity (%)</text>
<line x1="39.50" y1="710.60" x2="43.50" y2="710.60" stroke="#868686" stroke-width="1.0"/>
<text x="36.40" y="713.20" font-size="9.4" text-anchor="end" fill="#231f20" font-weight="normal" stroke="#231f20" stroke-width="0.08">0</text>
<line x1="294.40" y1="710.60" x2="298.40" y2="710.60" stroke="#868686" stroke-width="1.0"/>
<text x="301.00" y="713.20" font-size="9.4" text-anchor="start" fill="#231f20" font-weight="normal" stroke="#231f20" stroke-width="0.08">0</text>
<line x1="39.50" y1="677.07" x2="43.50" y2="677.07" stroke="#868686" stroke-width="1.0"/>
<text x="36.40" y="679.67" font-size="9.4" text-anchor="end" fill="#231f20" font-weight="normal" stroke="#231f20" stroke-width="0.08">20</text>
<line x1="294.40" y1="677.07" x2="298.40" y2="677.07" stroke="#868686" stroke-width="1.0"/>
<text x="301.00" y="679.67" font-size="9.4" text-anchor="start" fill="#231f20" font-weight="normal" stroke="#231f20" stroke-width="0.08">20</text>
<line x1="39.50" y1="643.53" x2="43.50" y2="643.53" stroke="#868686" stroke-width="1.0"/>
<text x="36.40" y="646.13" font-size="9.4" text-anchor="end" fill="#231f20" font-weight="normal" stroke="#231f20" stroke-width="0.08">40</text>
<line x1="294.40" y1="643.53" x2="298.40" y2="643.53" stroke="#868686" stroke-width="1.0"/>
<text x="301.00" y="646.13" font-size="9.4" text-anchor="start" fill="#231f20" font-weight="normal" stroke="#231f20" stroke-width="0.08">40</text>
<line x1="39.50" y1="610.00" x2="43.50" y2="610.00" stroke="#868686" stroke-width="1.0"/>
<text x="36.40" y="612.60" font-size="9.4" text-anchor="end" fill="#231f20" font-weight="normal" stroke="#231f20" stroke-width="0.08">60</text>
<line x1="294.40" y1="610.00" x2="298.40" y2="610.00" stroke="#868686" stroke-width="1.0"/>
<text x="301.00" y="612.60" font-size="9.4" text-anchor="start" fill="#231f20" font-weight="normal" stroke="#231f20" stroke-width="0.08">60</text>
<line x1="39.50" y1="576.47" x2="43.50" y2="576.47" stroke="#868686" stroke-width="1.0"/>
<text x="36.40" y="579.07" font-size="9.4" text-anchor="end" fill="#231f20" font-weight="normal" stroke="#231f20" stroke-width="0.08">80</text>
<line x1="294.40" y1="576.47" x2="298.40" y2="576.47" stroke="#868686" stroke-width="1.0"/>
<text x="301.00" y="579.07" font-size="9.4" text-anchor="start" fill="#231f20" font-weight="normal" stroke="#231f20" stroke-width="0.08">80</text>
<line x1="39.50" y1="542.93" x2="43.50" y2="542.93" stroke="#868686" stroke-width="1.0"/>
<text x="36.40" y="545.53" font-size="9.4" text-anchor="end" fill="#231f20" font-weight="normal" stroke="#231f20" stroke-width="0.08">100</text>
<line x1="294.40" y1="542.93" x2="298.40" y2="542.93" stroke="#868686" stroke-width="1.0"/>
<text x="301.00" y="545.53" font-size="9.4" text-anchor="start" fill="#231f20" font-weight="normal" stroke="#231f20" stroke-width="0.08">100</text>
<line x1="43.50" y1="710.60" x2="43.50" y2="714.60" stroke="#868686" stroke-width="1.0"/>
<text x="43.50" y="726.00" font-size="9.4" text-anchor="middle" fill="#231f20" font-weight="normal" stroke="#231f20" stroke-width="0.08">0</text>
<line x1="93.68" y1="710.60" x2="93.68" y2="714.60" stroke="#868686" stroke-width="1.0"/>
<text x="93.68" y="726.00" font-size="9.4" text-anchor="middle" fill="#231f20" font-weight="normal" stroke="#231f20" stroke-width="0.08">0.05</text>
<line x1="143.86" y1="710.60" x2="143.86" y2="714.60" stroke="#868686" stroke-width="1.0"/>
<text x="143.86" y="726.00" font-size="9.4" text-anchor="middle" fill="#231f20" font-weight="normal" stroke="#231f20" stroke-width="0.08">0.10</text>
<line x1="194.04" y1="710.60" x2="194.04" y2="714.60" stroke="#868686" stroke-width="1.0"/>
<text x="194.04" y="726.00" font-size="9.4" text-anchor="middle" fill="#231f20" font-weight="normal" stroke="#231f20" stroke-width="0.08">0.15</text>
<line x1="244.22" y1="710.60" x2="244.22" y2="714.60" stroke="#868686" stroke-width="1.0"/>
<text x="244.22" y="726.00" font-size="9.4" text-anchor="middle" fill="#231f20" font-weight="normal" stroke="#231f20" stroke-width="0.08">0.20</text>
<line x1="294.40" y1="710.60" x2="294.40" y2="714.60" stroke="#868686" stroke-width="1.0"/>
<text x="294.40" y="726.00" font-size="9.4" text-anchor="middle" fill="#231f20" font-weight="normal" stroke="#231f20" stroke-width="0.08">0.25</text>
<line x1="70.70" y1="618.84" x2="105.32" y2="636.21" stroke="#ff9a33" stroke-width="1.0"/>
<line x1="114.26" y1="642.43" x2="150.88" y2="676.66" stroke="#ff9a33" stroke-width="1.0"/>
<line x1="160.24" y1="681.73" x2="216.80" y2="695.55" stroke="#ff9a33" stroke-width="1.0"/>
<line x1="227.39" y1="698.48" x2="261.25" y2="708.97" stroke="#ff9a33" stroke-width="1.0"/>
<line x1="65.78" y1="611.84" x2="65.78" y2="620.90" stroke="#ff9a33" stroke-width="0.9"/>
<line x1="63.68" y1="611.84" x2="67.88" y2="611.84" stroke="#ff9a33" stroke-width="0.9"/>
<line x1="63.68" y1="620.90" x2="67.88" y2="620.90" stroke="#ff9a33" stroke-width="0.9"/>
<line x1="110.24" y1="634.14" x2="110.24" y2="643.20" stroke="#ff9a33" stroke-width="0.9"/>
<line x1="108.14" y1="634.14" x2="112.34" y2="634.14" stroke="#ff9a33" stroke-width="0.9"/>
<line x1="108.14" y1="643.20" x2="112.34" y2="643.20" stroke="#ff9a33" stroke-width="0.9"/>
<line x1="154.90" y1="675.56" x2="154.90" y2="685.28" stroke="#ff9a33" stroke-width="0.9"/>
<line x1="152.80" y1="675.56" x2="157.00" y2="675.56" stroke="#ff9a33" stroke-width="0.9"/>
<line x1="152.80" y1="685.28" x2="157.00" y2="685.28" stroke="#ff9a33" stroke-width="0.9"/>
<line x1="222.14" y1="692.32" x2="222.14" y2="701.38" stroke="#ff9a33" stroke-width="0.9"/>
<line x1="220.04" y1="692.32" x2="224.24" y2="692.32" stroke="#ff9a33" stroke-width="0.9"/>
<line x1="220.04" y1="701.38" x2="224.24" y2="701.38" stroke="#ff9a33" stroke-width="0.9"/>
<line x1="266.50" y1="708.92" x2="266.50" y2="712.28" stroke="#ff9a33" stroke-width="0.9"/>
<line x1="264.40" y1="708.92" x2="268.60" y2="708.92" stroke="#ff9a33" stroke-width="0.9"/>
<line x1="264.40" y1="712.28" x2="268.60" y2="712.28" stroke="#ff9a33" stroke-width="0.9"/>
<circle cx="65.78" cy="616.37" r="4.3" fill="#ff8200"/>
<circle cx="110.24" cy="638.67" r="4.3" fill="#ff8200"/>
<circle cx="154.90" cy="680.42" r="4.3" fill="#ff8200"/>
<circle cx="222.14" cy="696.85" r="4.3" fill="#ff8200"/>
<circle cx="266.50" cy="710.60" r="4.3" fill="#ff8200"/>
<line x1="70.02" y1="623.43" x2="106.00" y2="593.72" stroke="#a64dbf" stroke-width="1.0"/>
<line x1="114.03" y1="586.23" x2="151.11" y2="547.25" stroke="#a64dbf" stroke-width="1.0"/>
<line x1="160.40" y1="543.24" x2="216.64" y2="542.96" stroke="#a64dbf" stroke-width="1.0"/>
<line x1="227.64" y1="542.93" x2="261.00" y2="542.93" stroke="#a64dbf" stroke-width="1.0"/>
<line x1="65.78" y1="622.58" x2="65.78" y2="631.29" stroke="#a64dbf" stroke-width="0.9"/>
<line x1="63.68" y1="622.58" x2="67.88" y2="622.58" stroke="#a64dbf" stroke-width="0.9"/>
<line x1="63.68" y1="631.29" x2="67.88" y2="631.29" stroke="#a64dbf" stroke-width="0.9"/>
<line x1="110.24" y1="584.18" x2="110.24" y2="596.25" stroke="#a64dbf" stroke-width="0.9"/>
<line x1="108.14" y1="584.18" x2="112.34" y2="584.18" stroke="#a64dbf" stroke-width="0.9"/>
<line x1="108.14" y1="596.25" x2="112.34" y2="596.25" stroke="#a64dbf" stroke-width="0.9"/>
<line x1="154.90" y1="535.22" x2="154.90" y2="551.32" stroke="#a64dbf" stroke-width="0.9"/>
<line x1="152.80" y1="535.22" x2="157.00" y2="535.22" stroke="#a64dbf" stroke-width="0.9"/>
<line x1="152.80" y1="551.32" x2="157.00" y2="551.32" stroke="#a64dbf" stroke-width="0.9"/>
<line x1="222.14" y1="534.97" x2="222.14" y2="550.90" stroke="#a64dbf" stroke-width="0.9"/>
<line x1="220.04" y1="534.97" x2="224.24" y2="534.97" stroke="#a64dbf" stroke-width="0.9"/>
<line x1="220.04" y1="550.90" x2="224.24" y2="550.90" stroke="#a64dbf" stroke-width="0.9"/>
<line x1="266.50" y1="534.97" x2="266.50" y2="550.90" stroke="#a64dbf" stroke-width="0.9"/>
<line x1="264.40" y1="534.97" x2="268.60" y2="534.97" stroke="#a64dbf" stroke-width="0.9"/>
<line x1="264.40" y1="550.90" x2="268.60" y2="550.90" stroke="#a64dbf" stroke-width="0.9"/>
<circle cx="65.78" cy="626.93" r="4.3" fill="#660085"/>
<circle cx="110.24" cy="590.22" r="4.3" fill="#660085"/>
<circle cx="154.90" cy="543.27" r="4.3" fill="#660085"/>
<circle cx="222.14" cy="542.93" r="4.3" fill="#660085"/>
<circle cx="266.50" cy="542.93" r="4.3" fill="#660085"/>
<line x1="70.64" y1="640.97" x2="105.38" y2="622.63" stroke="#7fd0fb" stroke-width="1.0"/>
<line x1="115.20" y1="617.68" x2="149.94" y2="600.98" stroke="#7fd0fb" stroke-width="1.0"/>
<line x1="160.09" y1="596.79" x2="216.95" y2="576.94" stroke="#7fd0fb" stroke-width="1.0"/>
<line x1="226.76" y1="572.14" x2="261.88" y2="549.44" stroke="#7fd0fb" stroke-width="1.0"/>
<line x1="65.78" y1="639.17" x2="65.78" y2="647.89" stroke="#7fd0fb" stroke-width="0.9"/>
<line x1="63.68" y1="639.17" x2="67.88" y2="639.17" stroke="#7fd0fb" stroke-width="0.9"/>
<line x1="63.68" y1="647.89" x2="67.88" y2="647.89" stroke="#7fd0fb" stroke-width="0.9"/>
<line x1="110.24" y1="615.70" x2="110.24" y2="624.42" stroke="#7fd0fb" stroke-width="0.9"/>
<line x1="108.14" y1="615.70" x2="112.34" y2="615.70" stroke="#7fd0fb" stroke-width="0.9"/>
<line x1="108.14" y1="624.42" x2="112.34" y2="624.42" stroke="#7fd0fb" stroke-width="0.9"/>
<line x1="154.90" y1="592.73" x2="154.90" y2="604.47" stroke="#7fd0fb" stroke-width="0.9"/>
<line x1="152.80" y1="592.73" x2="157.00" y2="592.73" stroke="#7fd0fb" stroke-width="0.9"/>
<line x1="152.80" y1="604.47" x2="157.00" y2="604.47" stroke="#7fd0fb" stroke-width="0.9"/>
<line x1="222.14" y1="568.25" x2="222.14" y2="582.00" stroke="#7fd0fb" stroke-width="0.9"/>
<line x1="220.04" y1="568.25" x2="224.24" y2="568.25" stroke="#7fd0fb" stroke-width="0.9"/>
<line x1="220.04" y1="582.00" x2="224.24" y2="582.00" stroke="#7fd0fb" stroke-width="0.9"/>
<line x1="266.50" y1="538.07" x2="266.50" y2="554.84" stroke="#7fd0fb" stroke-width="0.9"/>
<line x1="264.40" y1="538.07" x2="268.60" y2="538.07" stroke="#7fd0fb" stroke-width="0.9"/>
<line x1="264.40" y1="554.84" x2="268.60" y2="554.84" stroke="#7fd0fb" stroke-width="0.9"/>
<circle cx="65.78" cy="643.53" r="4.3" fill="#50beff"/>
<circle cx="110.24" cy="620.06" r="4.3" fill="#50beff"/>
<circle cx="154.90" cy="598.60" r="4.3" fill="#50beff"/>
<circle cx="222.14" cy="575.13" r="4.3" fill="#50beff"/>
<circle cx="266.50" cy="546.45" r="4.3" fill="#50beff"/>
<line x1="255.60" y1="566.30" x2="271.30" y2="566.30" stroke="#000" stroke-width="2.0"/>
<path d="M275.30,566.30 L269.10,563.30 L270.30,566.30 L269.10,569.30 Z" fill="#000"/>
<line x1="255.60" y1="697.20" x2="271.30" y2="697.20" stroke="#000" stroke-width="2.0"/>
<path d="M275.30,697.20 L269.10,694.20 L270.30,697.20 L269.10,700.20 Z" fill="#000"/>
<text x="169.2" y="741.9" font-size="10.9" text-anchor="middle" fill="#231f20">Light intensity (W cm<tspan font-size="7" dy="-4.2">−2</tspan><tspan dy="4.2">)</tspan></text>
<text x="11.00" y="610.20" font-size="10.65" text-anchor="middle" fill="#93278f" font-weight="normal" stroke="#93278f" stroke-width="0.08" transform="rotate(-90 11.0 610.2)">HMF conversion (%)</text>
<text x="325.30" y="610.30" font-size="10.95" text-anchor="middle" fill="#231f20" font-weight="normal" stroke="#231f20" stroke-width="0.08" transform="rotate(90 325.3 610.3)">Selectivity (%)</text>
<line x1="112.10" y1="523.60" x2="117.50" y2="523.60" stroke="#ff9a33" stroke-width="0.9"/>
<line x1="127.90" y1="523.60" x2="133.90" y2="523.60" stroke="#ff9a33" stroke-width="0.9"/>
<circle cx="122.70" cy="523.60" r="4.1" fill="#ff8200"/>
<text x="138.60" y="527.40" font-size="10.1" text-anchor="start" fill="#231f20" font-weight="normal" stroke="#231f20" stroke-width="0.08">HMFCA</text>
<line x1="191.10" y1="523.60" x2="196.40" y2="523.60" stroke="#7fd0fb" stroke-width="0.9"/>
<line x1="206.80" y1="523.60" x2="212.60" y2="523.60" stroke="#7fd0fb" stroke-width="0.9"/>
<circle cx="201.60" cy="523.60" r="4.1" fill="#50beff"/>
<text x="217.40" y="527.40" font-size="10.1" text-anchor="start" fill="#231f20" font-weight="normal" stroke="#231f20" stroke-width="0.08">FDCA</text>
<line x1="389.50" y1="710.60" x2="393.50" y2="710.60" stroke="#868686" stroke-width="1.0"/>
<text x="385.25" y="713.20" font-size="9.4" text-anchor="end" fill="#231f20" font-weight="normal" stroke="#231f20" stroke-width="0.08">0</text>
<line x1="643.50" y1="710.60" x2="647.50" y2="710.60" stroke="#868686" stroke-width="1.0"/>
<text x="651.00" y="713.20" font-size="9.4" text-anchor="start" fill="#231f20" font-weight="normal" stroke="#231f20" stroke-width="0.08">0</text>
<line x1="389.50" y1="677.07" x2="393.50" y2="677.07" stroke="#868686" stroke-width="1.0"/>
<text x="385.25" y="679.67" font-size="9.4" text-anchor="end" fill="#231f20" font-weight="normal" stroke="#231f20" stroke-width="0.08">20</text>
<line x1="643.50" y1="677.07" x2="647.50" y2="677.07" stroke="#868686" stroke-width="1.0"/>
<text x="651.00" y="679.67" font-size="9.4" text-anchor="start" fill="#231f20" font-weight="normal" stroke="#231f20" stroke-width="0.08">20</text>
<line x1="389.50" y1="643.53" x2="393.50" y2="643.53" stroke="#868686" stroke-width="1.0"/>
<text x="385.25" y="646.13" font-size="9.4" text-anchor="end" fill="#231f20" font-weight="normal" stroke="#231f20" stroke-width="0.08">40</text>
<line x1="643.50" y1="643.53" x2="647.50" y2="643.53" stroke="#868686" stroke-width="1.0"/>
<text x="651.00" y="646.13" font-size="9.4" text-anchor="start" fill="#231f20" font-weight="normal" stroke="#231f20" stroke-width="0.08">40</text>
<line x1="389.50" y1="610.00" x2="393.50" y2="610.00" stroke="#868686" stroke-width="1.0"/>
<text x="385.25" y="612.60" font-size="9.4" text-anchor="end" fill="#231f20" font-weight="normal" stroke="#231f20" stroke-width="0.08">60</text>
<line x1="643.50" y1="610.00" x2="647.50" y2="610.00" stroke="#868686" stroke-width="1.0"/>
<text x="651.00" y="612.60" font-size="9.4" text-anchor="start" fill="#231f20" font-weight="normal" stroke="#231f20" stroke-width="0.08">60</text>
<line x1="389.50" y1="576.47" x2="393.50" y2="576.47" stroke="#868686" stroke-width="1.0"/>
<text x="385.25" y="579.07" font-size="9.4" text-anchor="end" fill="#231f20" font-weight="normal" stroke="#231f20" stroke-width="0.08">80</text>
<line x1="643.50" y1="576.47" x2="647.50" y2="576.47" stroke="#868686" stroke-width="1.0"/>
<text x="651.00" y="579.07" font-size="9.4" text-anchor="start" fill="#231f20" font-weight="normal" stroke="#231f20" stroke-width="0.08">80</text>
<line x1="389.50" y1="542.93" x2="393.50" y2="542.93" stroke="#868686" stroke-width="1.0"/>
<text x="385.25" y="545.53" font-size="9.4" text-anchor="end" fill="#231f20" font-weight="normal" stroke="#231f20" stroke-width="0.08">100</text>
<line x1="643.50" y1="542.93" x2="647.50" y2="542.93" stroke="#868686" stroke-width="1.0"/>
<text x="651.00" y="545.53" font-size="9.4" text-anchor="start" fill="#231f20" font-weight="normal" stroke="#231f20" stroke-width="0.08">100</text>
<line x1="393.50" y1="710.60" x2="393.50" y2="714.60" stroke="#868686" stroke-width="1.0"/>
<text x="393.50" y="726.10" font-size="9.9" text-anchor="middle" fill="#231f20" font-weight="normal" stroke="#231f20" stroke-width="0.08">20</text>
<line x1="456.00" y1="710.60" x2="456.00" y2="714.60" stroke="#868686" stroke-width="1.0"/>
<text x="456.00" y="726.10" font-size="9.9" text-anchor="middle" fill="#231f20" font-weight="normal" stroke="#231f20" stroke-width="0.08">30</text>
<line x1="518.50" y1="710.60" x2="518.50" y2="714.60" stroke="#868686" stroke-width="1.0"/>
<text x="518.50" y="726.10" font-size="9.9" text-anchor="middle" fill="#231f20" font-weight="normal" stroke="#231f20" stroke-width="0.08">40</text>
<line x1="581.00" y1="710.60" x2="581.00" y2="714.60" stroke="#868686" stroke-width="1.0"/>
<text x="581.00" y="726.10" font-size="9.9" text-anchor="middle" fill="#231f20" font-weight="normal" stroke="#231f20" stroke-width="0.08">50</text>
<line x1="643.50" y1="710.60" x2="643.50" y2="714.60" stroke="#868686" stroke-width="1.0"/>
<text x="643.50" y="726.10" font-size="9.9" text-anchor="middle" fill="#231f20" font-weight="normal" stroke="#231f20" stroke-width="0.08">60</text>
<line x1="429.80" y1="610.49" x2="450.95" y2="619.57" stroke="#ff9a33" stroke-width="1.0"/>
<line x1="460.85" y1="624.34" x2="513.65" y2="652.67" stroke="#ff9a33" stroke-width="1.0"/>
<line x1="523.85" y1="656.56" x2="575.65" y2="669.07" stroke="#ff9a33" stroke-width="1.0"/>
<line x1="585.56" y1="673.43" x2="626.44" y2="700.99" stroke="#ff9a33" stroke-width="1.0"/>
<line x1="424.75" y1="603.46" x2="424.75" y2="613.19" stroke="#ff9a33" stroke-width="0.9"/>
<line x1="422.65" y1="603.46" x2="426.85" y2="603.46" stroke="#ff9a33" stroke-width="0.9"/>
<line x1="422.65" y1="613.19" x2="426.85" y2="613.19" stroke="#ff9a33" stroke-width="0.9"/>
<line x1="456.00" y1="618.38" x2="456.00" y2="625.09" stroke="#ff9a33" stroke-width="0.9"/>
<line x1="453.90" y1="618.38" x2="458.10" y2="618.38" stroke="#ff9a33" stroke-width="0.9"/>
<line x1="453.90" y1="625.09" x2="458.10" y2="625.09" stroke="#ff9a33" stroke-width="0.9"/>
<line x1="518.50" y1="651.92" x2="518.50" y2="658.62" stroke="#ff9a33" stroke-width="0.9"/>
<line x1="516.40" y1="651.92" x2="520.60" y2="651.92" stroke="#ff9a33" stroke-width="0.9"/>
<line x1="516.40" y1="658.62" x2="520.60" y2="658.62" stroke="#ff9a33" stroke-width="0.9"/>
<line x1="581.00" y1="667.01" x2="581.00" y2="673.71" stroke="#ff9a33" stroke-width="0.9"/>
<line x1="578.90" y1="667.01" x2="583.10" y2="667.01" stroke="#ff9a33" stroke-width="0.9"/>
<line x1="578.90" y1="673.71" x2="583.10" y2="673.71" stroke="#ff9a33" stroke-width="0.9"/>
<line x1="631.00" y1="700.71" x2="631.00" y2="707.41" stroke="#ff9a33" stroke-width="0.9"/>
<line x1="628.90" y1="700.71" x2="633.10" y2="700.71" stroke="#ff9a33" stroke-width="0.9"/>
<line x1="628.90" y1="707.41" x2="633.10" y2="707.41" stroke="#ff9a33" stroke-width="0.9"/>
<circle cx="424.75" cy="608.32" r="4.3" fill="#ff8200"/>
<circle cx="456.00" cy="621.74" r="4.3" fill="#ff8200"/>
<circle cx="518.50" cy="655.27" r="4.3" fill="#ff8200"/>
<circle cx="581.00" cy="670.36" r="4.3" fill="#ff8200"/>
<circle cx="631.00" cy="704.06" r="4.3" fill="#ff8200"/>
<line x1="427.64" y1="647.24" x2="453.11" y2="605.96" stroke="#a64dbf" stroke-width="1.0"/>
<line x1="460.96" y1="598.91" x2="513.54" y2="573.81" stroke="#a64dbf" stroke-width="1.0"/>
<line x1="523.51" y1="569.18" x2="575.99" y2="545.53" stroke="#a64dbf" stroke-width="1.0"/>
<line x1="586.50" y1="543.23" x2="625.50" y2="542.97" stroke="#a64dbf" stroke-width="1.0"/>
<line x1="424.75" y1="647.56" x2="424.75" y2="656.28" stroke="#a64dbf" stroke-width="0.9"/>
<line x1="422.65" y1="647.56" x2="426.85" y2="647.56" stroke="#a64dbf" stroke-width="0.9"/>
<line x1="422.65" y1="656.28" x2="426.85" y2="656.28" stroke="#a64dbf" stroke-width="0.9"/>
<line x1="456.00" y1="595.92" x2="456.00" y2="606.65" stroke="#a64dbf" stroke-width="0.9"/>
<line x1="453.90" y1="595.92" x2="458.10" y2="595.92" stroke="#a64dbf" stroke-width="0.9"/>
<line x1="453.90" y1="606.65" x2="458.10" y2="606.65" stroke="#a64dbf" stroke-width="0.9"/>
<line x1="518.50" y1="564.39" x2="518.50" y2="578.48" stroke="#a64dbf" stroke-width="0.9"/>
<line x1="516.40" y1="564.39" x2="520.60" y2="564.39" stroke="#a64dbf" stroke-width="0.9"/>
<line x1="516.40" y1="578.48" x2="520.60" y2="578.48" stroke="#a64dbf" stroke-width="0.9"/>
<line x1="581.00" y1="535.30" x2="581.00" y2="551.23" stroke="#a64dbf" stroke-width="0.9"/>
<line x1="578.90" y1="535.30" x2="583.10" y2="535.30" stroke="#a64dbf" stroke-width="0.9"/>
<line x1="578.90" y1="551.23" x2="583.10" y2="551.23" stroke="#a64dbf" stroke-width="0.9"/>
<line x1="631.00" y1="534.97" x2="631.00" y2="550.90" stroke="#a64dbf" stroke-width="0.9"/>
<line x1="628.90" y1="534.97" x2="633.10" y2="534.97" stroke="#a64dbf" stroke-width="0.9"/>
<line x1="628.90" y1="550.90" x2="633.10" y2="550.90" stroke="#a64dbf" stroke-width="0.9"/>
<circle cx="424.75" cy="651.92" r="4.3" fill="#660085"/>
<circle cx="456.00" cy="601.28" r="4.3" fill="#660085"/>
<circle cx="518.50" cy="571.44" r="4.3" fill="#660085"/>
<circle cx="581.00" cy="543.27" r="4.3" fill="#660085"/>
<circle cx="631.00" cy="542.93" r="4.3" fill="#660085"/>
<line x1="428.95" y1="664.96" x2="451.80" y2="645.58" stroke="#7fd0fb" stroke-width="1.0"/>
<line x1="461.37" y1="640.86" x2="513.13" y2="629.61" stroke="#7fd0fb" stroke-width="1.0"/>
<line x1="523.65" y1="626.51" x2="575.85" y2="606.90" stroke="#7fd0fb" stroke-width="1.0"/>
<line x1="585.79" y1="602.26" x2="626.21" y2="579.35" stroke="#7fd0fb" stroke-width="1.0"/>
<line x1="424.75" y1="665.16" x2="424.75" y2="671.87" stroke="#7fd0fb" stroke-width="0.9"/>
<line x1="422.65" y1="665.16" x2="426.85" y2="665.16" stroke="#7fd0fb" stroke-width="0.9"/>
<line x1="422.65" y1="671.87" x2="426.85" y2="671.87" stroke="#7fd0fb" stroke-width="0.9"/>
<line x1="456.00" y1="638.67" x2="456.00" y2="645.38" stroke="#7fd0fb" stroke-width="0.9"/>
<line x1="453.90" y1="638.67" x2="458.10" y2="638.67" stroke="#7fd0fb" stroke-width="0.9"/>
<line x1="453.90" y1="645.38" x2="458.10" y2="645.38" stroke="#7fd0fb" stroke-width="0.9"/>
<line x1="518.50" y1="625.09" x2="518.50" y2="631.80" stroke="#7fd0fb" stroke-width="0.9"/>
<line x1="516.40" y1="625.09" x2="520.60" y2="625.09" stroke="#7fd0fb" stroke-width="0.9"/>
<line x1="516.40" y1="631.80" x2="520.60" y2="631.80" stroke="#7fd0fb" stroke-width="0.9"/>
<line x1="581.00" y1="599.60" x2="581.00" y2="610.34" stroke="#7fd0fb" stroke-width="0.9"/>
<line x1="578.90" y1="599.60" x2="583.10" y2="599.60" stroke="#7fd0fb" stroke-width="0.9"/>
<line x1="578.90" y1="610.34" x2="583.10" y2="610.34" stroke="#7fd0fb" stroke-width="0.9"/>
<line x1="631.00" y1="569.93" x2="631.00" y2="583.34" stroke="#7fd0fb" stroke-width="0.9"/>
<line x1="628.90" y1="569.93" x2="633.10" y2="569.93" stroke="#7fd0fb" stroke-width="0.9"/>
<line x1="628.90" y1="583.34" x2="633.10" y2="583.34" stroke="#7fd0fb" stroke-width="0.9"/>
<circle cx="424.75" cy="668.52" r="4.3" fill="#50beff"/>
<circle cx="456.00" cy="642.02" r="4.3" fill="#50beff"/>
<circle cx="518.50" cy="628.44" r="4.3" fill="#50beff"/>
<circle cx="581.00" cy="604.97" r="4.3" fill="#50beff"/>
<circle cx="631.00" cy="576.63" r="4.3" fill="#50beff"/>
<line x1="615.40" y1="595.90" x2="629.60" y2="595.90" stroke="#000" stroke-width="2.0"/>
<path d="M633.60,595.90 L627.40,592.90 L628.60,595.90 L627.40,598.90 Z" fill="#000"/>
<line x1="615.40" y1="684.40" x2="629.60" y2="684.40" stroke="#000" stroke-width="2.0"/>
<path d="M633.60,684.40 L627.40,681.40 L628.60,684.40 L627.40,687.40 Z" fill="#000"/>
<text x="518.30" y="741.90" font-size="10.95" text-anchor="middle" fill="#231f20" font-weight="normal" stroke="#231f20" stroke-width="0.08">Temperature (°C)</text>
<text x="364.40" y="610.20" font-size="10.65" text-anchor="middle" fill="#93278f" font-weight="normal" stroke="#93278f" stroke-width="0.08" transform="rotate(-90 364.4 610.2)">HMF conversion (%)</text>
<text x="675.40" y="610.30" font-size="10.95" text-anchor="middle" fill="#231f20" font-weight="normal" stroke="#231f20" stroke-width="0.08" transform="rotate(90 675.4 610.3)">Selectivity (%)</text>
<line x1="458.20" y1="525.00" x2="464.00" y2="525.00" stroke="#ff9a33" stroke-width="0.9"/>
<line x1="474.40" y1="525.00" x2="479.90" y2="525.00" stroke="#ff9a33" stroke-width="0.9"/>
<circle cx="469.20" cy="525.00" r="4.1" fill="#ff8200"/>
<text x="485.00" y="528.80" font-size="10.1" text-anchor="start" fill="#231f20" font-weight="normal" stroke="#231f20" stroke-width="0.08">HMFCA</text>
<line x1="536.90" y1="525.00" x2="542.50" y2="525.00" stroke="#7fd0fb" stroke-width="0.9"/>
<line x1="552.90" y1="525.00" x2="558.60" y2="525.00" stroke="#7fd0fb" stroke-width="0.9"/>
<circle cx="547.70" cy="525.00" r="4.1" fill="#50beff"/>
<text x="563.60" y="528.80" font-size="10.1" text-anchor="start" fill="#231f20" font-weight="normal" stroke="#231f20" stroke-width="0.08">FDCA</text>
<rect x="43.5" y="3.5" width="250.10" height="201.70" fill="none" stroke="#868686" stroke-width="1.1"/>
<rect x="393.5" y="3.5" width="250.00" height="201.70" fill="none" stroke="#868686" stroke-width="1.1"/>
<rect x="43.5" y="256.0" width="250.20" height="201.50" fill="none" stroke="#868686" stroke-width="1.1"/>
<rect x="393.5" y="256.0" width="250.00" height="201.50" fill="none" stroke="#868686" stroke-width="1.1"/>
<rect x="43.5" y="509.4" width="250.90" height="201.20" fill="none" stroke="#868686" stroke-width="1.1"/>
<rect x="393.5" y="509.4" width="250.00" height="201.20" fill="none" stroke="#868686" stroke-width="1.1"/>
<line x1="39.50" y1="457.50" x2="47.50" y2="457.50" stroke="#333" stroke-width="0.8"/>
<line x1="43.50" y1="453.50" x2="43.50" y2="461.50" stroke="#333" stroke-width="0.8"/>
<text x="-0.20" y="8.00" font-size="16.5" text-anchor="start" fill="#000" font-weight="bold">a</text>
<text x="350.60" y="12.00" font-size="15.5" text-anchor="start" fill="#000" font-weight="bold">b</text>
<text x="-0.10" y="262.20" font-size="16.5" text-anchor="start" fill="#000" font-weight="bold">c</text>
<text x="350.60" y="262.20" font-size="15.5" text-anchor="start" fill="#000" font-weight="bold">d</text>
<text x="-0.80" y="517.60" font-size="16.5" text-anchor="start" fill="#000" font-weight="bold">e</text>
<text x="353.60" y="517.90" font-size="15.5" text-anchor="start" fill="#000" font-weight="bold">f</text>
</svg>
</body></html>
